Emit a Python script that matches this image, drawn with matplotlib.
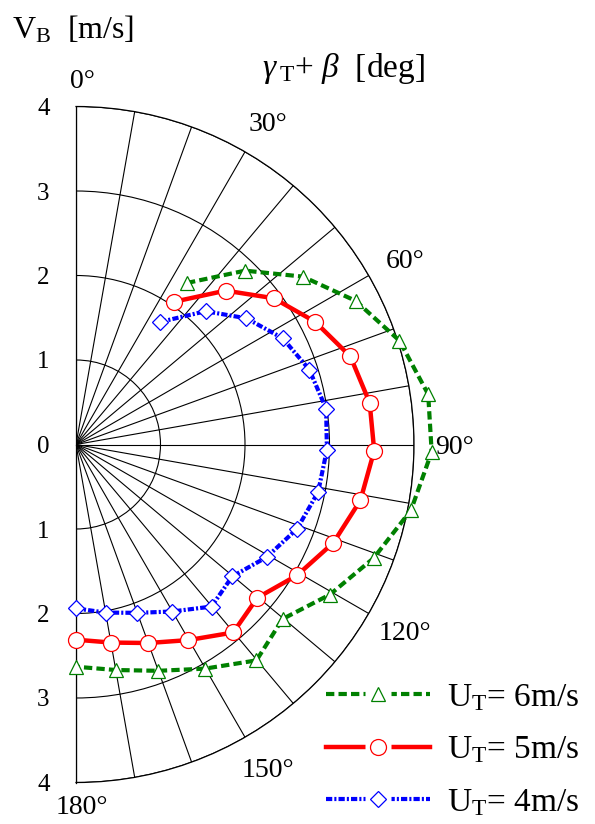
import numpy as np
import matplotlib
matplotlib.use("Agg")
import matplotlib.pyplot as plt
from matplotlib.lines import Line2D
from matplotlib.transforms import offset_copy

plt.rcParams['font.family'] = ['Liberation Serif', 'DejaVu Serif']
plt.rcParams['mathtext.fontset'] = 'custom'
plt.rcParams['mathtext.rm'] = 'Liberation Serif'
plt.rcParams['mathtext.it'] = 'Liberation Serif:italic'

# ---- data ----
angles_deg = [34.5, 44.2, 53.5, 62.8, 72.2, 81.9, 91.2, 101.1, 110.9, 120.6,
              130.2, 140.1, 150.1, 160.0, 170.0, 180.0]
vb_ut6 = [2.32, 2.87, 3.34, 3.72, 4.02, 4.21, 4.21, 4.04, 3.77, 3.49,
          3.20, 3.33, 3.06, 2.85, 2.71, 2.63]
vb_ut5 = [2.05, 2.54, 2.91, 3.18, 3.41, 3.51, 3.53, 3.43, 3.26, 3.04,
          2.81, 2.90, 2.67, 2.50, 2.38, 2.31]
vb_ut4 = [1.76, 2.20, 2.51, 2.75, 2.90, 2.99, 2.97, 2.92, 2.80, 2.62,
          2.42, 2.50, 2.28, 2.12, 2.02, 1.94]
series_labels = [r'U$_{\mathrm{T}}$= 6m/s', r'U$_{\mathrm{T}}$= 5m/s', r'U$_{\mathrm{T}}$= 4m/s']
angle_labels = [0, 30, 60, 90, 120, 150, 180]
r_ticks = [-4, -3, -2, -1, 0, 1, 2, 3, 4]
r_ticklabels = ['4', '3', '2', '1', '0', '1', '2', '3', '4']

W, H = 595, 824
fig = plt.figure(figsize=(W / 100, H / 100), dpi=100)

# circle center at (76, 444.5) px from top-left, radius 338 px
cx, cy_top, R = 76, 444.5, 338
cy = H - cy_top
# cartesian overlay for left radial labels (box = right half-disc)
axc = fig.add_axes([cx / W, (cy - R) / H, R / W, 2 * R / H], frameon=False)
axc.set_xlim(0, 4)
axc.set_ylim(-4, 4)
axc.set_xticks([])
axc.set_yticks(r_ticks)
axc.set_yticklabels(r_ticklabels, fontsize=18)
axc.tick_params(axis='y', length=0, pad=19)
axc.patch.set_alpha(0)

# polar axes: matplotlib pads the half-disc bbox to a square (center at 1/4 width)
ax = fig.add_axes([(cx - R / 2) / W, (cy - R) / H, 2 * R / W, 2 * R / H],
                  projection='polar')
ax.patch.set_alpha(0)
ax.set_theta_zero_location('N')
ax.set_theta_direction(-1)
ax.set_thetamin(0)
ax.set_thetamax(180)
ax.set_rlim(0, 4)
ax.set_rticks([1, 2, 3, 4])
ax.set_yticklabels([])
ax.set_thetagrids(np.arange(0, 181, 10), labels=[''] * 19)
ax.grid(True, color='black', linewidth=0.8)
for sp in ax.spines.values():
    sp.set_color('black')
    sp.set_linewidth(0.9)
ax.tick_params(axis='both', length=0)

th = np.deg2rad(angles_deg)
l6, = ax.plot(th, vb_ut6, color='#008000', lw=3.0, dashes=(2.0, 1.0),
              marker='^', ms=10, mfc='white', mec='#008000', mew=0.9,
              clip_on=False, zorder=5)
l5, = ax.plot(th, vb_ut5, color='#FF0000', lw=3.2, linestyle='-',
              marker='o', ms=11.5, mfc='white', mec='#FF0000', mew=0.9,
              clip_on=False, zorder=5)
l4, = ax.plot(th, vb_ut4, color='#0000FF', lw=3.0, dashes=(1.5, 0.5, 0.5, 0.5),
              marker='D', ms=8, mfc='white', mec='#0000FF', mew=0.9,
              clip_on=False, zorder=5)

# angle labels (number centred on its direction, degree sign appended)
tr = offset_copy(ax.transData, fig=fig, x=6, y=-9.5, units='dots')
for a in angle_labels:
    rr = {0: 4.33, 180: 4.26}.get(a, 4.41)
    ax.text(np.deg2rad(a), rr, f'{a}°', ha='center', va='baseline',
            fontsize=20, transform=tr, clip_on=False)

# axis titles
fig.text(12 / W, 1 - 30 / H, r'V$_{\mathrm{B}}$  [m/s]', fontsize=23,
         ha='left', va='center')
fig.text(262 / W, 1 - 69 / H, r'$\gamma\,_{\mathrm{T}}$+ $\beta$  [deg]', fontsize=24,
         ha='left', va='center')

# legend with gap around markers
handles = []
for ln in (l6, l5, l4):
    gap = Line2D([], [], linestyle='none', marker='s', ms=19, mfc='white',
                 mec='none')
    mk = Line2D([], [], linestyle='none', marker=ln.get_marker(),
                ms=ln.get_markersize(), mfc='white', mec=ln.get_color(), mew=0.9)
    handles.append((ln, gap, mk))
fig.legend(handles, series_labels, loc='center left',
           bbox_to_anchor=(326 / W, 1 - 750 / H), frameon=False,
           fontsize=24, handlelength=3.12, handletextpad=0.5,
           labelspacing=0.65, borderpad=0, borderaxespad=0)

fig.savefig('out.png', dpi=100)
